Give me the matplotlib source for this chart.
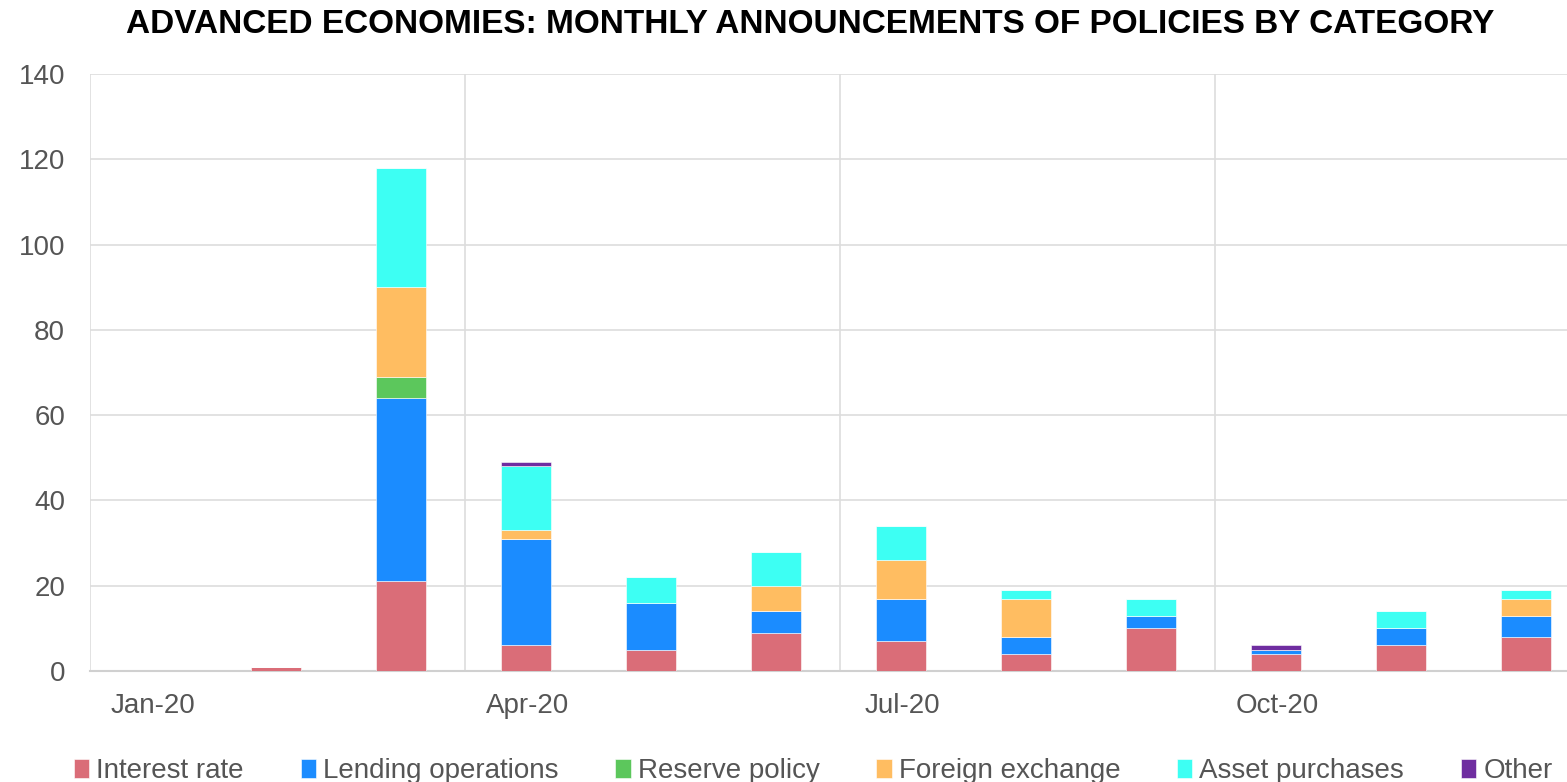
import numpy as np
import matplotlib
matplotlib.use('Agg')
import matplotlib.pyplot as plt

# Monate Jan-20 .. Dec-20
months = ['Jan-20', 'Feb-20', 'Mar-20', 'Apr-20', 'May-20', 'Jun-20',
          'Jul-20', 'Aug-20', 'Sep-20', 'Oct-20', 'Nov-20', 'Dec-20']

interest_rate = [0, 1, 21, 6, 5, 9, 7, 4, 10, 4, 6, 8]
lending_ops = [0, 0, 43, 25, 11, 5, 10, 4, 3, 1, 4, 5]
reserve_policy = [0, 0, 5, 0, 0, 0, 0, 0, 0, 0, 0, 0]
foreign_exchange = [0, 0, 21, 2, 0, 6, 9, 9, 0, 0, 0, 4]
asset_purchases = [0, 0, 28, 15, 6, 8, 8, 2, 4, 0, 4, 2]
other = [0, 0, 0, 1, 0, 0, 0, 0, 0, 1, 0, 0]

series = [
    ('Interest rate', interest_rate, '#DA6D78'),
    ('Lending operations', lending_ops, '#1B8CFF'),
    ('Reserve policy', reserve_policy, '#5CC75C'),
    ('Foreign exchange', foreign_exchange, '#FFBD61'),
    ('Asset purchases', asset_purchases, '#3DFFF3'),
    ('Other', other, '#6F2DA0'),
]

plt.rcParams['font.family'] = ['Liberation Sans', 'DejaVu Sans']

fig = plt.figure(figsize=(15.67, 7.82), dpi=100)
ax = fig.add_axes([90 / 1567, 111 / 782, 1 - 90 / 1567, (671 - 74) / 782])

x = np.arange(len(months))
bottom = np.zeros(len(months))
for name, vals, col in series:
    vals = np.array(vals, dtype=float)
    ax.bar(x - 0.01, vals, width=0.4, bottom=bottom, color=col, label=name,
           edgecolor='white', linewidth=0.4, zorder=3)
    bottom += vals

ax.set_xlim(-0.5, (1567 - 90) / 125 - 0.5)
ax.set_ylim(0, 140)
ax.set_yticks(range(0, 141, 20))
ax.set_xticks([0, 3, 6, 9])
ax.set_xticklabels([months[i] for i in [0, 3, 6, 9]])
ax.set_xticks([-0.5, 2.5, 5.5, 8.5], minor=True)

ax.grid(axis='y', color='#DDDDDD', linewidth=1.2, zorder=0)
ax.grid(axis='x', which='minor', color='#DDDDDD', linewidth=1.2, zorder=0)
ax.tick_params(axis='both', which='both', length=0, labelsize=20, colors='#555555')
ax.tick_params(axis='x', pad=16)
ax.tick_params(axis='y', pad=18)

for s in ['top', 'right', 'left']:
    ax.spines[s].set_visible(False)
ax.spines['bottom'].set_color('#D0D0D0')
ax.spines['bottom'].set_linewidth(1.5)

fig.suptitle('ADVANCED ECONOMIES: MONTHLY ANNOUNCEMENTS OF POLICIES BY CATEGORY',
             x=0.517, y=0.988, fontsize=24, fontweight='bold', color='black')

leg = fig.legend(loc='lower center', bbox_to_anchor=(0.519, -0.035), ncol=6,
                 frameon=False, fontsize=20, handlelength=0.55, handleheight=0.7,
                 handletextpad=0.25, columnspacing=2.05)
for t in leg.get_texts():
    t.set_color('#555555')

fig.savefig('out.png', dpi=100)
